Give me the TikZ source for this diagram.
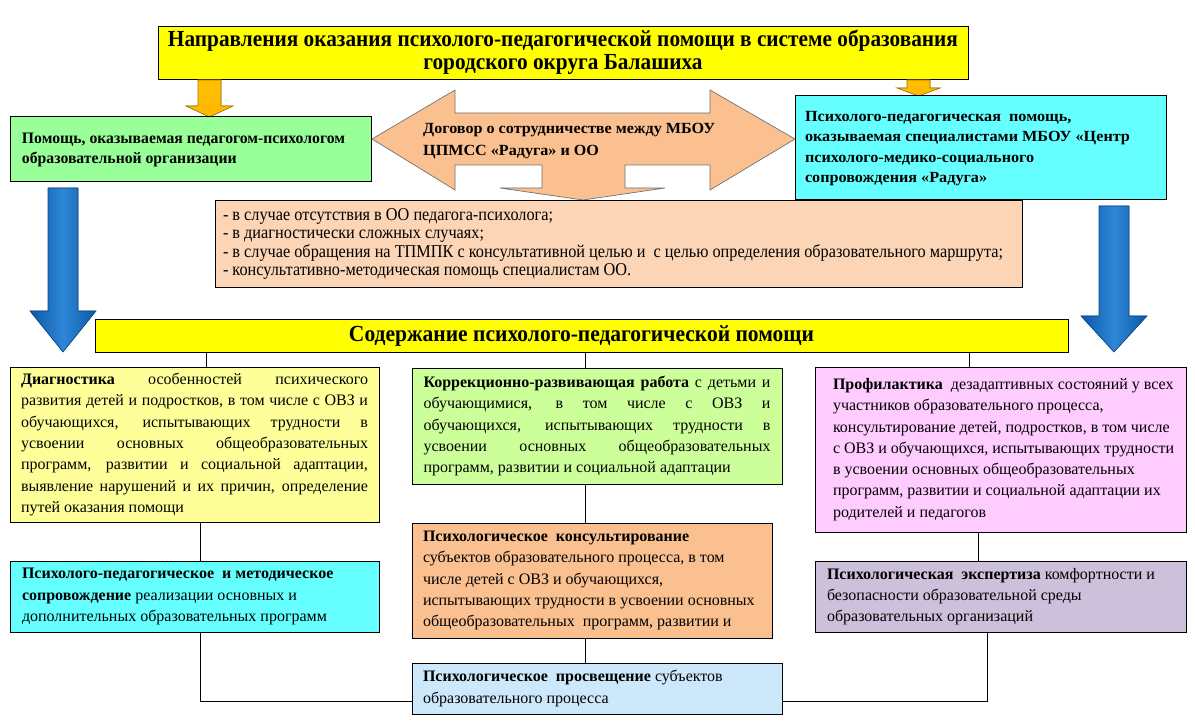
\documentclass[tikz,border=0pt]{standalone}
\usepackage{fontspec}
\usepackage{graphicx}
\setmainfont{Liberation Serif}
\usetikzlibrary{calc}
\definecolor{cYellow}{HTML}{FFFF00}
\definecolor{cGold}{HTML}{FFC000}
\definecolor{cGoldD}{HTML}{A07800}
\definecolor{cGreen}{HTML}{99FF99}
\definecolor{cPeach}{HTML}{FAC090}
\definecolor{cPeachL}{HTML}{FBD5B5}
\definecolor{cCyan}{HTML}{66FFFF}
\definecolor{cBlue}{HTML}{2E86D6}
\definecolor{cBlueD}{HTML}{0B5AA6}
\definecolor{cLYellow}{HTML}{FFFF99}
\definecolor{cLGreen}{HTML}{CCFF99}
\definecolor{cPink}{HTML}{FFCCFF}
\definecolor{cLBlue}{HTML}{CCE8FA}
\definecolor{cLav}{HTML}{CCC0DA}
\newcommand\resetsp{\spaceskip=0pt\xspaceskip=0pt\relax}
\newcommand\jl[1]{\leavevmode\hbox to 347pt{\resetsp #1}}
\newcommand\fitw[2]{\resizebox{#1}{\height}{\resetsp #2}}
\begin{document}
\begin{tikzpicture}[x=1pt,y=-1pt,
  box/.style={draw=black, line width=1pt, anchor=north west, inner ysep=0pt, outer sep=0pt},
  body/.style={font=\fontsize{16}{21.3}\selectfont},
  conn/.style={draw=black, line width=0.9pt},
  goldarrow/.style={top color=cGold, bottom color=cGold!85!orange, draw=cGoldD, line width=0.6pt},
  bluearrow/.style={left color=cBlueD, right color=cBlueD, middle color=cBlue, draw=cBlueD!80!black, line width=0.6pt}]
\fill[white] (0,0) rectangle (1195,722);
\useasboundingbox (0,0) rectangle (1195,722);

% title
\node[box, fill=cYellow, minimum width=810pt, minimum height=53pt,
      font=\bfseries\fontsize{23}{23.5}\selectfont] (title) at (158,27)
  {\fitw{790pt}{\begin{tabular}{@{}c@{}}\resetsp Направления оказания психолого-педагогической помощи в системе образования\\\resetsp городского округа Балашиха\end{tabular}}};

% small gold arrows
\fill[goldarrow] (198,80) -- (221,80) -- (221,106) -- (233,106) -- (209.5,117) -- (186,106) -- (198,106) -- cycle;
\fill[goldarrow] (907,80) -- (930,80) -- (930,88) -- (940,88) -- (918.5,96) -- (897,88) -- (907,88) -- cycle;

% left green box
\node[box, fill=cGreen, text width=337pt, inner xsep=12pt, minimum height=65pt, align=left,
      font=\bfseries\fontsize{16}{20}\selectfont] (ped) at (10,117)
  {\fitw{323pt}{\begin{tabular}{@{}l@{}}\resetsp Помощь, оказываемая педагогом-психологом\\\resetsp образовательной организации\end{tabular}}};

% right cyan box
\node[box, fill=cCyan, text width=351pt, inner xsep=10pt, minimum height=104pt, align=left,
      font=\bfseries\fontsize{15.5}{20.5}\selectfont] (center) at (795,96)
  {\fitw{325pt}{\begin{tabular}{@{}l@{}}\resetsp Психолого-педагогическая\ \ помощь,\\\resetsp оказываемая специалистами МБОУ «Центр\\\resetsp психолого-медико-социального\\\resetsp сопровождения «Радуга»\end{tabular}}};

% double arrow with down outlet
\filldraw[fill=cPeach, draw=black!55, line width=0.7pt]
  (372,139) -- (455,90) -- (455,113) -- (710,113) -- (710,90) -- (795,139)
  -- (710,190) -- (710,165) -- (625,165) -- (625,188) -- (665,188) -- (583,200)
  -- (500,188) -- (542,188) -- (542,165) -- (455,165) -- (455,190) -- cycle;
\node[anchor=west, inner sep=0pt, align=left, font=\bfseries\fontsize{15.5}{22}\selectfont] (dogovor) at (423,140)
  {\fitw{292pt}{\begin{tabular}{@{}l@{}}\resetsp Договор о сотрудничестве между МБОУ\\\resetsp ЦПМСС «Радуга» и ОО\end{tabular}}};

% bullet box
\node[box, fill=cPeachL, text width=791pt, inner xsep=8pt, minimum height=87pt, align=left,
      font=\fontsize{18}{18.5}\selectfont] (cases) at (215,201)
  {\fitw{780pt}{\begin{tabular}{@{}l@{}}\resetsp - в случае отсутствия в ОО педагога-психолога;\\
   \resetsp - в диагностически сложных случаях;\\
   \resetsp - в случае обращения на ТПМПК с консультативной целью и\ \ с целью определения образовательного маршрута;\\
   \resetsp - консультативно-методическая помощь специалистам ОО.\end{tabular}}};

% blue arrows
\fill[bluearrow] (48,188) -- (78,188) -- (78,311) -- (96,311) -- (63,352) -- (30,311) -- (48,311) -- cycle;
\fill[bluearrow] (1099,206) -- (1129,206) -- (1129,316) -- (1147,316) -- (1114,352) -- (1081,316) -- (1099,316) -- cycle;

% header
\node[box, fill=cYellow, minimum width=973pt, minimum height=32pt,
      font=\bfseries\fontsize{23}{23}\selectfont] (header) at (95,320)
  {\fitw{465pt}{Содержание психолого-педагогической помощи}};

% content boxes
\node[box, body, fill=cLYellow, text width=347pt, inner xsep=11pt, minimum height=155pt, align=left] (diag) at (10,367)
  {\resetsp\jl{\textbf{Диагностика} особенностей психического}\\
   \jl{развития детей и подростков, в том числе с ОВЗ и}\\
   \jl{обучающихся, испытывающих трудности в}\\
   \jl{усвоении основных общеобразовательных}\\
   \jl{программ, развитии и социальной адаптации,}\\
   \jl{выявление нарушений и их причин, определение}\\
   путей оказания помощи};

\node[box, body, fill=cLGreen, text width=347pt, inner xsep=11.5pt, minimum height=116pt, align=left] (corr) at (412,368)
  {\resetsp\jl{\textbf{Коррекционно-развивающая работа} с детьми и}\\
   \jl{обучающимися, в том числе с ОВЗ и}\\
   \jl{обучающихся, испытывающих трудности в}\\
   \jl{усвоении основных общеобразовательных}\\
   программ, развитии и социальной адаптации};

\node[box, body, fill=cPink, text width=335pt, inner xsep=18pt, minimum height=165pt, align=left] (prof) at (815,367)
  {\resetsp\mbox{\textbf{Профилактика}\ \ дезадаптивных состояний у всех}\\
   \mbox{участников образовательного процесса,}\\
   \mbox{консультирование детей, подростков, в том числе}\\
   \mbox{с ОВЗ и обучающихся, испытывающих трудности}\\
   \mbox{в усвоении основных общеобразовательных}\\
   \mbox{программ, развитии и социальной адаптации их}\\
   \mbox{родителей и педагогов}};

\node[box, body, fill=cCyan, text width=345pt, inner xsep=12pt, minimum height=71pt, align=left] (soprov) at (10,561)
  {\resetsp\mbox{\textbf{Психолого-педагогическое\ \ и методическое}}\\
   \mbox{\textbf{сопровождение} реализации основных и}\\
   \mbox{дополнительных образовательных программ}};

\node[box, body, fill=cPeach, text width=338pt, inner xsep=11pt, minimum height=115pt, align=left] (cons) at (412,523)
  {\resetsp\mbox{\textbf{Психологическое\ \ консультирование}}\\
   \mbox{субъектов образовательного процесса, в том}\\
   \mbox{числе детей с ОВЗ и обучающихся,}\\
   \mbox{испытывающих трудности в усвоении основных}\\
   \mbox{общеобразовательных\ \ программ, развитии и}};

\node[box, body, fill=cLBlue, text width=348pt, inner xsep=11pt, minimum height=51pt, align=left] (prosv) at (412,663)
  {\resetsp\mbox{\textbf{Психологическое\ \ просвещение} субъектов}\\
   \mbox{образовательного процесса}};

\node[box, body, fill=cLav, text width=347pt, inner xsep=12pt, minimum height=71pt, align=left] (expert) at (815,561)
  {\resetsp\mbox{\textbf{Психологическая\ \ экспертиза} комфортности и}\\
   \mbox{безопасности образовательной среды}\\
   \mbox{образовательных организаций}};

% connectors
\coordinate (xa) at (206,0);
\coordinate (xb) at (585,0);
\coordinate (xc) at (969,0);
\coordinate (xd) at (200,0);
\coordinate (xe) at (978,0);
\coordinate (xf) at (987,0);
\coordinate (yl) at (0,701);
\draw[conn] (header.south -| xa) -- (diag.north -| xa);
\draw[conn] (header.south -| xb) -- (corr.north -| xb);
\draw[conn] (header.south -| xc) -- (prof.north -| xc);
\draw[conn] (diag.south -| xd) -- (soprov.north -| xd);
\draw[conn] (corr.south -| xb) -- (cons.north -| xb);
\draw[conn] (cons.south -| xb) -- (prosv.north -| xb);
\draw[conn] (prof.south -| xe) -- (expert.north -| xe);
\draw[conn] (soprov.south -| xd) |- (prosv.west |- yl);
\draw[conn] (expert.south -| xf) |- (prosv.east |- yl);
\end{tikzpicture}
\end{document}
